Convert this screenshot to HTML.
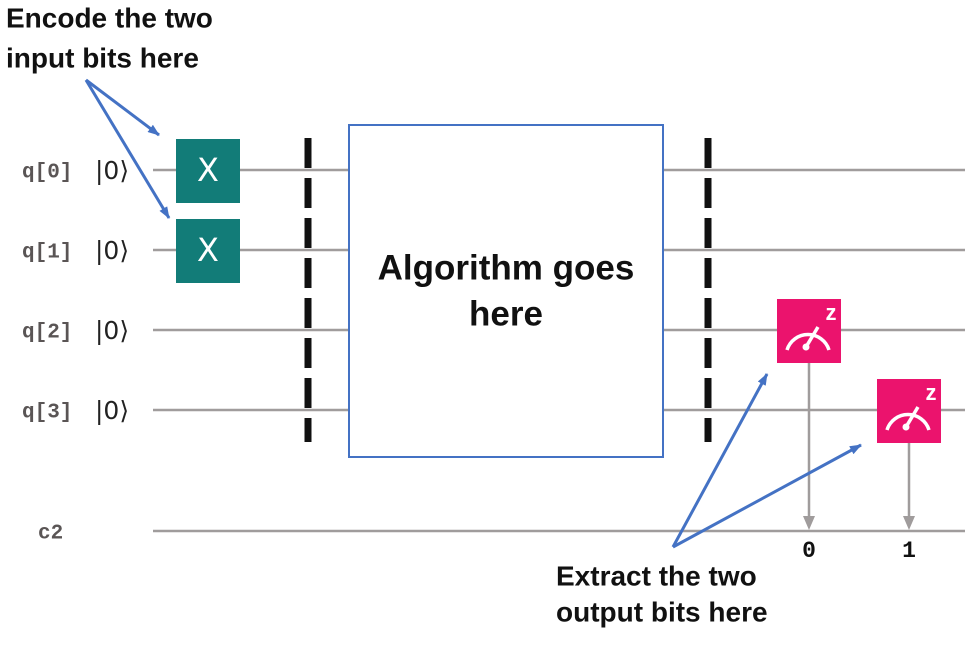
<!DOCTYPE html>
<html><head><style>
body{margin:0;width:965px;height:640px;background:#fff;overflow:hidden}
svg text{dominant-baseline:middle}
</style></head><body>
<svg width="965" height="640" xmlns="http://www.w3.org/2000/svg">
<defs>
<marker id="ah" markerWidth="12" markerHeight="9" refX="11" refY="4.5" orient="auto" markerUnits="userSpaceOnUse"><path d="M0,0 L12,4.5 L0,9 Z" fill="#4472c4"/></marker>
</defs>
<g stroke="#a09c9c" stroke-width="2.5">
<line x1="153" y1="170" x2="965" y2="170"/>
<line x1="153" y1="250" x2="965" y2="250"/>
<line x1="153" y1="330" x2="965" y2="330"/>
<line x1="153" y1="410" x2="965" y2="410"/>
<line x1="153" y1="531" x2="965" y2="531"/>
<line x1="809" y1="363" x2="809" y2="518"/>
<line x1="909" y1="443" x2="909" y2="518"/>
</g>
<path d="M803,516 L815,516 L809,530Z M903,516 L915,516 L909,530Z" fill="#a09c9c"/>
<g font-family="Liberation Mono, monospace" font-weight="bold" font-size="21" fill="#5a5555">
<text x="22" y="172">q[0]</text><text x="22" y="252">q[1]</text>
<text x="22" y="332">q[2]</text><text x="22" y="412">q[3]</text>
<text x="38" y="533">c2</text>
</g>
<g font-family="DejaVu Sans, sans-serif" font-size="25" fill="#222">
<text x="95" y="172">|0⟩</text><text x="95" y="252">|0⟩</text>
<text x="95" y="332">|0⟩</text><text x="95" y="412">|0⟩</text>
</g>
<g font-family="Liberation Mono, monospace" font-weight="bold" font-size="23" fill="#111" text-anchor="middle">
<text x="809" y="551">0</text><text x="909" y="551">1</text>
</g>
<rect x="176" y="139" width="64" height="64" fill="#127c78"/>
<rect x="176" y="219" width="64" height="64" fill="#127c78"/>
<g font-family="DejaVu Sans, sans-serif" font-size="32" fill="#fff" text-anchor="middle">
<text x="208" y="172">X</text><text x="208" y="252">X</text>
</g>
<g stroke="#111" stroke-width="7" stroke-dasharray="30,10">
<line x1="308" y1="138" x2="308" y2="442"/>
<line x1="708" y1="138" x2="708" y2="442"/>
</g>
<rect x="349" y="125" width="314" height="332" fill="#fff" stroke="#4472c4" stroke-width="2"/>
<g font-family="Liberation Sans, sans-serif" font-size="35" font-weight="bold" fill="#111" text-anchor="middle">
<text x="506" y="270">Algorithm goes</text><text x="506" y="316">here</text>
</g>
<g>
<rect x="777" y="299" width="64" height="64" fill="#eb136d"/>
<path d="M787,350 A22,22 0 0 1 829,350" fill="none" stroke="#fff" stroke-width="3.5"/>
<line x1="806" y1="347" x2="818" y2="327" stroke="#fff" stroke-width="3.5"/>
<circle cx="806" cy="347" r="3.5" fill="#fff"/>
<text x="831" y="314" font-family="Liberation Sans, sans-serif" font-weight="bold" font-size="22" fill="#fff" text-anchor="middle">z</text>
<rect x="877" y="379" width="64" height="64" fill="#eb136d"/>
<path d="M887,430 A22,22 0 0 1 929,430" fill="none" stroke="#fff" stroke-width="3.5"/>
<line x1="906" y1="427" x2="918" y2="407" stroke="#fff" stroke-width="3.5"/>
<circle cx="906" cy="427" r="3.5" fill="#fff"/>
<text x="931" y="394" font-family="Liberation Sans, sans-serif" font-weight="bold" font-size="22" fill="#fff" text-anchor="middle">z</text>
</g>
<g stroke="#4472c4" stroke-width="3" marker-end="url(#ah)">
<line x1="86" y1="80" x2="159" y2="135"/>
<line x1="86" y1="80" x2="169" y2="218"/>
<line x1="673" y1="547" x2="767" y2="374"/>
<line x1="673" y1="547" x2="861" y2="445"/>
</g>
<g font-family="Liberation Sans, sans-serif" font-weight="bold" font-size="28" fill="#111">
<text x="6" y="20">Encode the two</text><text x="6" y="60">input bits here</text>
<text x="556" y="578">Extract the two</text><text x="556" y="614">output bits here</text>
</g>
</svg>
</body></html>
